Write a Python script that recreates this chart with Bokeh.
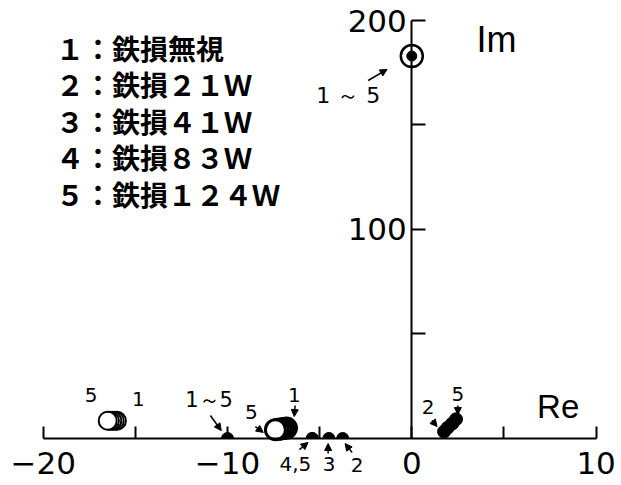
import numpy as np
from bokeh.plotting import figure
from bokeh.models import Label, Arrow, NormalHead, FixedTicker
from bokeh.embed import file_html
from bokeh.resources import INLINE

# ---------------- data ----------------
legend_lines = ["１：鉄損無視", "２：鉄損２１Ｗ", "３：鉄損４１Ｗ", "４：鉄損８３Ｗ", "５：鉄損１２４Ｗ"]

# open-circle poles, far left (cases 1..5)
pA_re = [-16.0, -16.12, -16.25, -16.38, -16.5]
pA_im = [8.5, 8.5, 8.5, 8.5, 8.5]
# filled pole at -10 (cases 1..5 coincide)
pB_re = [-10.0]
pB_im = [0.0]
# open-circle poles near -7 (cases 1..5)
pC_re = [-6.8, -6.95, -7.1, -7.25, -7.4]
pC_im = [5.0, 4.8, 4.6, 4.4, 4.2]
# filled real poles (cases 2, 3, 4, 5)
pD_re = [-3.75, -4.5, -5.4, -5.4]
pD_im = [0.0, 0.0, 0.0, 0.0]
# filled poles in right half-plane (cases 2, 3, 4, 5)
pE_re = [1.75, 1.95, 2.2, 2.4]
pE_im = [3.3, 5.2, 7.2, 9.2]
# circled pole high on imaginary axis (cases 1..5 coincide)
pF_re = [0.0]
pF_im = [183.0]

x_ticks = [-20, -15, -10, -5, 0, 5, 10]
x_tick_labels = ["−20", "", "−10", "", "0", "", "10"]
y_ticks = [50, 100, 150, 200]
y_tick_labels = ["", "100", "", "200"]

# ---------------- figure ----------------
p = figure(width=621, height=485, x_range=(-22.317, 11.378), y_range=(-22.49, 209.57),
           output_backend="svg", toolbar_location=None,
           min_border_left=0, min_border_right=0, min_border_top=0, min_border_bottom=0)
p.grid.visible = False
p.outline_line_color = None
p.background_fill_color = "white"
p.border_fill_color = "white"

xa = p.xaxis[0]
xa.fixed_location = 0
xa.ticker = FixedTicker(ticks=x_ticks)
xa.major_label_overrides = dict(zip(x_ticks, x_tick_labels))
xa.bounds = (-20, 10)
xa.major_tick_in = 12
xa.major_tick_out = 0
xa.minor_tick_in = 0
xa.minor_tick_out = 0
xa.axis_line_width = 2
xa.major_tick_line_width = 2
xa.axis_line_color = "black"
xa.major_tick_line_color = "black"
xa.major_label_text_font = "DejaVu Sans"
xa.major_label_text_font_size = "31px"
xa.major_label_text_color = "black"
xa.major_label_standoff = 14

ya = p.yaxis[0]
ya.fixed_location = 0
ya.ticker = FixedTicker(ticks=y_ticks)
ya.major_label_overrides = dict(zip(y_ticks, y_tick_labels))
ya.bounds = (0, 200)
ya.major_tick_in = 14
ya.major_tick_out = 0
ya.minor_tick_in = 0
ya.minor_tick_out = 0
ya.axis_line_width = 2
ya.major_tick_line_width = 2
ya.axis_line_color = "black"
ya.major_tick_line_color = "black"
ya.major_label_text_font = "DejaVu Sans"
ya.major_label_text_font_size = "31px"
ya.major_label_text_color = "black"
ya.major_label_standoff = 5

# ---------------- poles ----------------
p.scatter(pA_re, pA_im, marker="circle", size=18, fill_color="white",
          line_color="black", line_width=2)
p.scatter(pC_re, pC_im, marker="circle", size=20, fill_color="white",
          line_color="black", line_width=3)
# poles on the real axis: only the upper half is shown
p.wedge(pB_re, pB_im, radius=6, radius_units="screen", start_angle=0, end_angle=np.pi,
        fill_color="black", line_color="black")
p.wedge(pD_re, pD_im, radius=6, radius_units="screen", start_angle=0, end_angle=np.pi,
        fill_color="black", line_color="black")
p.scatter(pE_re, pE_im, marker="circle", size=13, fill_color="black", line_color="black")
p.scatter(pF_re, pF_im, marker="circle", size=22, fill_color="white",
          line_color="black", line_width=2.5)
p.scatter(pF_re, pF_im, marker="circle", size=10, fill_color="black", line_color="black")

# ---------------- texts ----------------
def lab(x, y, t, size="20px", font="DejaVu Sans", align="center", style="normal"):
    p.add_layout(Label(x=x, y=y, text=t, text_font=font, text_font_size=size,
                       text_align=align, text_baseline="middle", text_color="black",
                       text_font_style=style))

def arr(x0, y0, x1, y1):
    p.add_layout(Arrow(x_start=x0, y_start=y0, x_end=x1, y_end=y1, line_width=1.5,
                       line_color="black",
                       end=NormalHead(size=7, fill_color="black", line_color="black")))

# legend block
for i, t in enumerate(legend_lines):
    lab(-19.3, 187 - i * 17.46, t, size="28px", font="Noto Sans CJK JP",
        align="left", style="bold")

# axis names
lab(4.6, 191, "Im", size="36px", font="Liberation Sans")
lab(7.94, 15.3, "Re", size="33px", font="Liberation Sans")

# case annotations
lab(-17.4, 20.6, "5")
lab(-14.84, 19.1, "1")
lab(-11.0, 18.2, "1～5", size="21px")
arr(-10.93, 11.0, -10.34, 3.8)
lab(-8.71, 12.6, "5")
arr(-8.49, 5.7, -8.06, 2.9)
lab(-6.37, 20.6, "1")
arr(-6.33, 15.8, -6.38, 10.5)
lab(-6.32, -12.0, "4,5")
arr(-6.1, -5.3, -5.63, -1.9)
lab(-4.48, -12.0, "3")
arr(-4.54, -7.2, -4.54, -2.4)
lab(-2.97, -12.9, "2")
arr(-3.24, -6.7, -3.62, -2.4)
lab(0.89, 15.3, "2")
arr(1.1, 8.6, 1.37, 5.7)
lab(2.5, 21.5, "5")
arr(2.5, 15.8, 2.5, 11.5)
lab(-3.45, 164.0, "1 ～ 5", size="22px")
arr(-2.37, 171.3, -1.34, 176.6)

open("out.html", "w").write(file_html(p, INLINE))
